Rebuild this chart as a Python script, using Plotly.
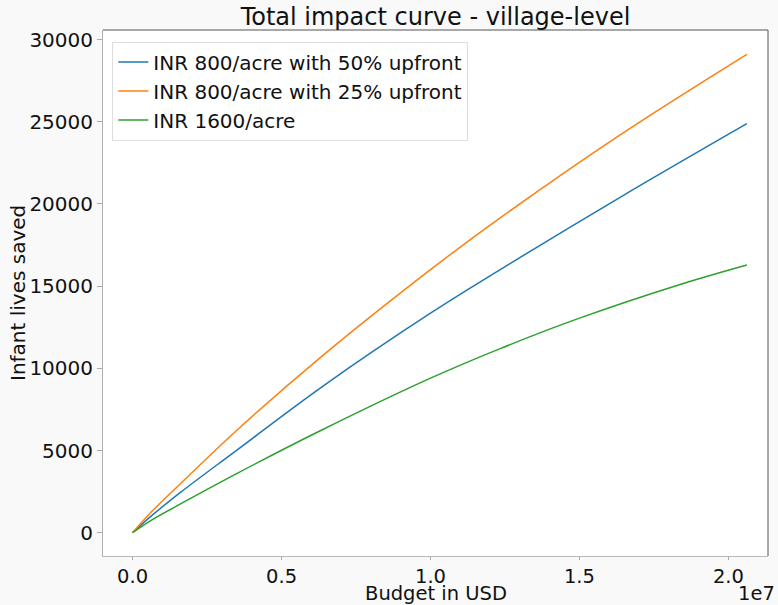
import plotly.graph_objects as go

# Budget values (in units of 1e7 USD) and lives saved
blue_x = [0, 0.0651, 0.1607, 0.3446, 0.63, 1.0, 1.234, 1.6366, 2.062]
blue_y = [0, 1050, 2450, 4950, 8800, 13350, 16000, 20400, 24878]

orange_x = [0, 0.0651, 0.1607, 0.3446, 0.63, 1.0, 1.234, 1.6366, 2.062]
orange_y = [0, 1300, 2980, 6143, 10650, 16000, 19150, 24200, 29100]

green_x = [0, 0.0651, 0.1607, 0.3446, 0.63, 1.0, 1.234, 1.5, 1.838, 2.062]
green_y = [0, 780, 1750, 3550, 6200, 9400, 11200, 13050, 15100, 16284]

names = ["INR 800/acre with 50% upfront", "INR 800/acre with 25% upfront", "INR 1600/acre"]
colors = ["#1f77b4", "#ff7f0e", "#2ca02c"]

x_ticks = [0.0, 0.5, 1.0, 1.5, 2.0]
x_tick_labels = ["0.0", "0.5", "1.0", "1.5", "2.0"]
y_ticks = [0, 5000, 10000, 15000, 20000, 25000, 30000]
y_tick_labels = [str(v) for v in y_ticks]

SCALE = 1e7
FONT = "DejaVu Sans, sans-serif"
TXT = "#111111"

fig = go.Figure()
for xs, ys, name, c in zip([blue_x, orange_x, green_x], [blue_y, orange_y, green_y], names, colors):
    fig.add_trace(go.Scatter(
        x=[v * SCALE for v in xs], y=ys, mode="lines", name=name,
        line=dict(color=c, width=1.5, shape="spline", smoothing=1.0),
    ))

fig.update_layout(
    width=778, height=605,
    margin=dict(l=103, r=10, t=30, b=49),
    paper_bgcolor="#f9f9f9",
    plot_bgcolor="white",
    font=dict(family=FONT, size=20, color=TXT),
    title=dict(text="Total impact curve - village-level", x=0.5, xref="paper", xanchor="center",
               y=1 - 17 / 605, yref="container", yanchor="middle",
               font=dict(size=24, color=TXT)),
    showlegend=True,
    legend=dict(x=0.014, y=0.978, xanchor="left", yanchor="top",
                bgcolor="rgba(255,255,255,0.8)", bordercolor="#dddddd", borderwidth=1,
                font=dict(size=20), tracegroupgap=0),
)
fig.update_xaxes(
    range=[-0.0993 * SCALE, 2.133 * SCALE],
    tickvals=[v * SCALE for v in x_ticks], ticktext=x_tick_labels,
    ticks="outside", ticklen=3, tickcolor="#aaaaaa", showgrid=False, zeroline=False,
    showline=True, linecolor="#b8b8b8", linewidth=1,
    tickfont=dict(size=19.5), automargin=False,
)
fig.update_yaxes(
    range=[-1417, 30578],
    tickvals=y_ticks, ticktext=y_tick_labels,
    ticks="outside", ticklen=5, tickcolor="#aaaaaa", showgrid=False, zeroline=False,
    showline=True, linecolor="#b0b0b0", linewidth=1,
    tickfont=dict(size=20), automargin=False,
)
# darker top and right spines
fig.add_shape(type="line", xref="paper", yref="paper", x0=0, x1=1, y0=1, y1=1,
              line=dict(color="#555555", width=1))
fig.add_shape(type="line", xref="paper", yref="paper", x0=1, x1=1, y0=0, y1=1,
              line=dict(color="#555555", width=1))

fig.add_annotation(text="Budget in USD", xref="paper", yref="paper", x=0.5, y=-(593 - 556) / 526,
                   xanchor="center", yanchor="middle", showarrow=False, borderpad=0,
                   font=dict(size=19.5, color=TXT))
fig.add_annotation(text="Infant lives saved", xref="paper", yref="paper", x=(18 - 103) / 665, y=0.5,
                   xanchor="center", yanchor="middle", textangle=-90, showarrow=False,
                   font=dict(size=20, color=TXT))
fig.add_annotation(text="1e7", xref="paper", yref="paper", x=(776 - 103) / 665, y=-(593 - 556) / 526,
                   xanchor="right", yanchor="middle", showarrow=False, borderpad=0,
                   font=dict(size=19.5, color=TXT))

fig.write_html("out.html", config={"displayModeBar": False},
               post_script="document.body.style.margin='0';")
